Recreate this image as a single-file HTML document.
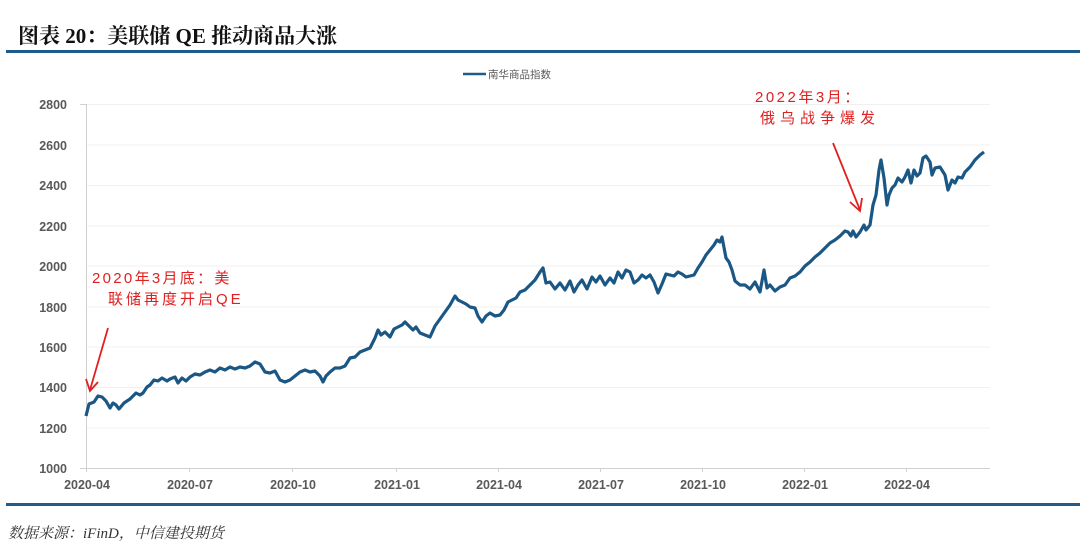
<!DOCTYPE html>
<html><head><meta charset="utf-8"><style>
body{margin:0;background:#fff;width:1080px;height:553px;overflow:hidden;position:relative;font-family:"Liberation Sans","Noto Sans CJK SC",sans-serif}
.t{position:absolute;left:18px;top:20px;font-family:"Liberation Serif","Noto Serif CJK SC",serif;font-weight:bold;font-size:21px;color:#111}
.bar{position:absolute;left:6px;width:1074px;height:3px;background:#1f5c8c}
.src{position:absolute;left:8px;top:522px;font-family:"Liberation Serif","Noto Serif CJK SC",serif;font-style:italic;font-size:15px;color:#333}
</style></head><body>
<div class="t">图表 20：美联储 QE 推动商品大涨</div>
<div class="bar" style="top:50px"></div>
<div class="bar" style="top:503px"></div>
<div class="src">数据来源：iFinD，中信建投期货</div>
<svg width="1080" height="553" style="position:absolute;left:0;top:0" font-family="Liberation Sans, Noto Sans CJK SC, sans-serif">
<g stroke="#f0f0f0" stroke-width="1">
<line x1="86" x2="990" y1="104.5" y2="104.5"/><line x1="86" x2="990" y1="145" y2="145"/><line x1="86" x2="990" y1="185.5" y2="185.5"/><line x1="86" x2="990" y1="226" y2="226"/><line x1="86" x2="990" y1="266" y2="266"/><line x1="86" x2="990" y1="307" y2="307"/><line x1="86" x2="990" y1="347" y2="347"/><line x1="86" x2="990" y1="387.5" y2="387.5"/><line x1="86" x2="990" y1="428" y2="428"/>
</g>
<g stroke="#d0d0d0" stroke-width="1">
<line x1="86.5" x2="86.5" y1="104" y2="472"/><line x1="80" x2="86" y1="104.5" y2="104.5"/>
<line x1="80" x2="990" y1="468.5" y2="468.5"/>
<line x1="189.5" x2="189.5" y1="468" y2="472"/><line x1="292.5" x2="292.5" y1="468" y2="472"/><line x1="396.5" x2="396.5" y1="468" y2="472"/><line x1="498.5" x2="498.5" y1="468" y2="472"/><line x1="600.5" x2="600.5" y1="468" y2="472"/><line x1="702.5" x2="702.5" y1="468" y2="472"/><line x1="804.5" x2="804.5" y1="468" y2="472"/><line x1="906.5" x2="906.5" y1="468" y2="472"/>
</g>
<g font-size="12.5" font-weight="bold" fill="#595959" text-anchor="end">
<text x="67" y="109">2800</text><text x="67" y="150">2600</text><text x="67" y="190">2400</text><text x="67" y="231">2200</text><text x="67" y="271">2000</text><text x="67" y="312">1800</text><text x="67" y="352">1600</text><text x="67" y="392">1400</text><text x="67" y="433">1200</text><text x="67" y="473">1000</text>
</g>
<g font-size="12.5" font-weight="bold" fill="#595959" text-anchor="middle">
<text x="87" y="489">2020-04</text><text x="190" y="489">2020-07</text><text x="293" y="489">2020-10</text><text x="397" y="489">2021-01</text><text x="499" y="489">2021-04</text><text x="601" y="489">2021-07</text><text x="703" y="489">2021-10</text><text x="805" y="489">2022-01</text><text x="907" y="489">2022-04</text>
</g>
<line x1="463" x2="486" y1="74" y2="74" stroke="#1f5c8c" stroke-width="2.5"/>
<text x="488" y="78" font-size="10.5" fill="#595959">南华商品指数</text>
<polyline fill="none" stroke="#1a5785" stroke-width="3.2" stroke-linejoin="round" points="86,416 89,404 94,402 98,396 102,397 106,401 110,408 113,403 116,405 119,409 124,403 130,399 136,393 140,395 143,393 147,387 150,385 154,380 158,381 162,378 167,381 170,379 175,377 178,383 182,378 186,381 190,377 195,374 200,375 205,372 210,370 215,372 220,368 225,370 230,367 235,369 240,367 245,368 250,366 255,362 260,364 265,372 270,373 275,371 280,380 285,382 290,380 295,376 300,372 305,370 310,372 315,371 320,376 323,382 326,376 330,372 335,368 340,368 345,366 350,358 355,357 360,352 365,350 370,348 375,338 378,330 381,335 385,332 390,337 394,329 398,327 402,325 405,322 410,327 413,330 416,327 420,333 425,335 430,337 435,326 440,319 445,312 450,305 455,296 458,300 462,302 466,304 470,307 475,308 478,316 482,322 486,316 490,313 495,316 500,315 504,310 508,302 512,300 516,298 520,292 525,290 530,285 535,280 540,272 543,268 546,283 550,282 555,289 560,283 565,290 570,281 574,292 578,285 582,280 587,289 592,277 596,282 600,276 605,285 610,278 614,283 618,272 622,278 626,270 630,272 634,283 638,280 642,275 646,278 650,275 654,282 658,293 662,284 666,274 670,275 674,276 678,272 682,274 686,277 690,276 694,275 698,268 702,262 706,255 710,250 714,245 717,240 720,242 722,237 726,258 729,262 732,270 735,281 740,285 745,285 750,289 755,282 760,292 764,270 767,288 770,285 775,291 780,287 785,285 790,278 795,276 800,272 805,266 810,262 815,257 820,253 825,248 830,243 835,240 840,236 845,231 848,232 851,236 853,231 856,237 860,232 864,225 866,230 870,225 873,205 876,195 879,170 881,160 884,178 887,205 889,195 892,188 895,185 898,178 902,182 905,177 908,170 911,183 914,170 917,176 920,173 923,158 926,156 930,162 932,175 935,168 940,167 945,175 948,190 952,180 955,183 958,177 962,178 965,172 970,167 975,160 980,155 984,152"/>
<g fill="#e02020" font-size="15">
<text x="92" y="283" letter-spacing="2.3">2020年3月底：美</text>
<text x="108" y="304" letter-spacing="3">联储再度开启QE</text>
<text x="755" y="102" letter-spacing="2.5">2022年3月：</text>
<text x="760" y="123" letter-spacing="5">俄乌战争爆发</text>
</g>
<g stroke="#e02020" stroke-width="1.8" fill="none">
<line x1="108" y1="328" x2="90" y2="390"/><polyline points="86,379 90,391 98,382"/>
<line x1="833" y1="143" x2="860" y2="210"/><polyline points="850,202 860,211 862,198"/>
</g>
</svg>
</body></html>
